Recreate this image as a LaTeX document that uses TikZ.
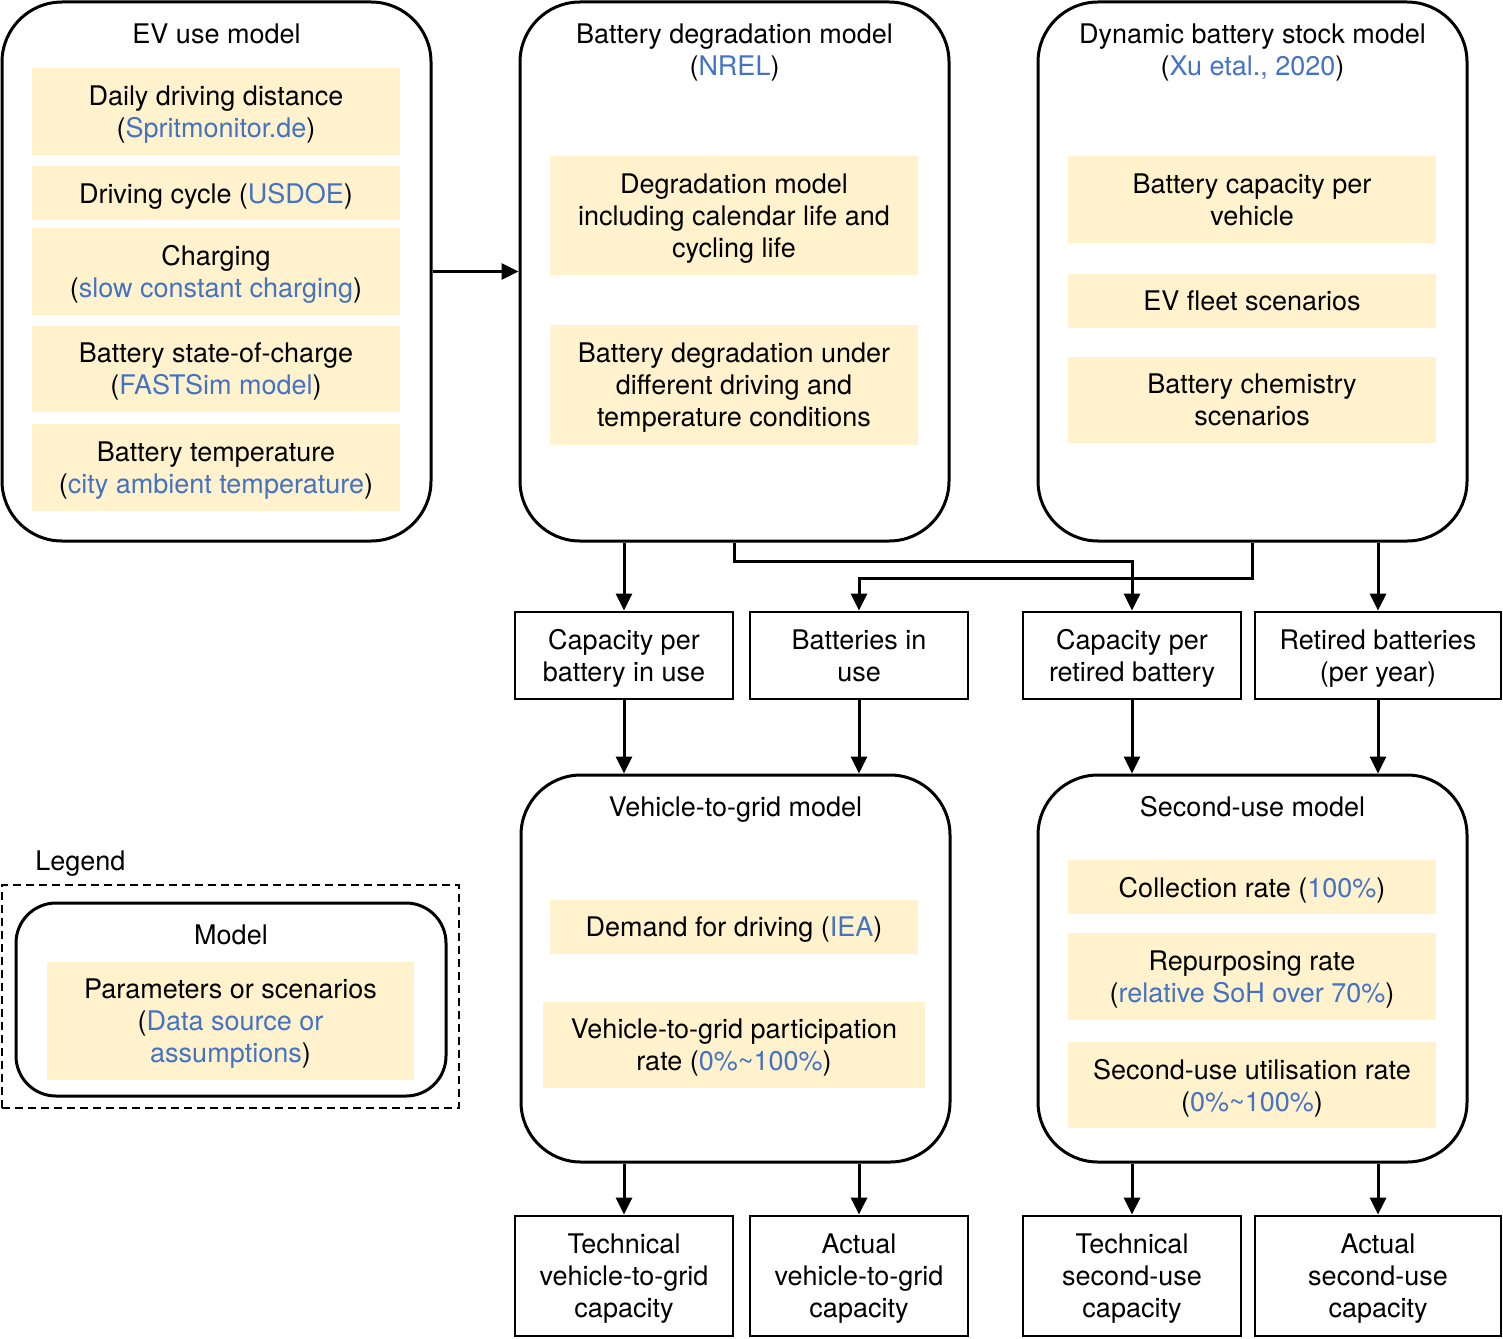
\documentclass[tikz,border=0pt]{standalone}
\usepackage{fontspec}
\setmainfont{TeX Gyre Heros}
\usetikzlibrary{arrows.meta}
\definecolor{srcblue}{HTML}{4472C4}
\definecolor{paramfill}{HTML}{FFF2CC}
\newcommand{\src}[1]{\textcolor{srcblue}{#1}}
\begin{document}
\begin{tikzpicture}[x=0.5pt,y=-0.5pt, font=\fontsize{13.5}{16}\selectfont,
  model/.style={draw, line width=1.5pt, rounded corners=30pt, inner sep=0pt},
  param/.style={fill=paramfill, align=center, inner sep=0pt, text depth=0pt},
  var/.style={draw, line width=1.4pt, align=center, minimum width=109pt, inner sep=0pt, text depth=0pt},
  arr/.style={line width=1.5pt, -{Triangle[length=8.5pt,width=8pt]}},
  title/.style={align=center, inner sep=0pt, text depth=0pt}]
\useasboundingbox (0,0) rectangle (1503,1338);

% ---- EV use model
\node[model, minimum width=214.5pt, minimum height=269.5pt] (ev) at (216.5,271.5) {};
\node[title] (evt) at (216.5,34) {EV use model};
\node[param, minimum width=184pt, minimum height=43.5pt] (ev1) at (216,111.5) {Daily driving distance\\(\src{Spritmonitor.de})};
\node[param, minimum width=184pt, minimum height=27pt] (ev2) at (216,193) {Driving cycle (\src{USDOE})};
\node[param, minimum width=184pt, minimum height=43.5pt] (ev3) at (216,271.5) {Charging\\(\src{slow constant charging})};
\node[param, minimum width=184pt, minimum height=43pt] (ev4) at (216,369) {Battery state-of-charge\\(\src{FASTSim model})};
\node[param, minimum width=184pt, minimum height=43.5pt] (ev5) at (216,467.5) {Battery temperature\\(\src{city ambient temperature})};

% ---- Battery degradation model
\node[model, minimum width=214.5pt, minimum height=269.5pt] (deg) at (734.5,271.5) {};
\node[title] (degt) at (734.5,50) {Battery degradation model\\(\src{NREL})};
\node[param, minimum width=184pt, minimum height=59.5pt] (deg1) at (734,215.5) {Degradation model\\including calendar life and\\cycling life};
\node[param, minimum width=184pt, minimum height=60pt] (deg2) at (734,385) {Battery degradation under\\different driving and\\temperature conditions};

% ---- Dynamic battery stock model
\node[model, minimum width=214.5pt, minimum height=269.5pt] (stock) at (1252.5,271.5) {};
\node[title] (stockt) at (1252.5,50) {Dynamic battery stock model\\(\src{Xu etal., 2020})};
\node[param, minimum width=184pt, minimum height=43.5pt] (st1) at (1252,199.5) {Battery capacity per\\vehicle};
\node[param, minimum width=184pt, minimum height=27pt] (st2) at (1252,301) {EV fleet scenarios};
\node[param, minimum width=184pt, minimum height=43pt] (st3) at (1252,400) {Battery chemistry\\scenarios};

% ---- intermediate variables
\node[var, minimum height=43.5pt] (capuse) at (624,655.5) {Capacity per\\battery in use};
\node[var, minimum height=43.5pt] (batuse) at (859,655.5) {Batteries in\\use};
\node[var, minimum height=43.5pt] (capret) at (1132,655.5) {Capacity per\\retired battery};
\node[var, minimum height=43.5pt, minimum width=123pt] (retired) at (1378,655.5) {Retired batteries\\(per year)};

% ---- Vehicle-to-grid model
\node[model, minimum width=214.5pt, minimum height=193.5pt] (v2g) at (735.5,968.5) {};
\node[title] (v2gt) at (735.5,807) {Vehicle-to-grid model};
\node[param, minimum width=184pt, minimum height=27pt] (v1) at (734,927) {Demand for driving (\src{IEA})};
\node[param, minimum width=191pt, minimum height=43pt] (v2) at (734,1045) {Vehicle-to-grid participation\\rate (\src{0\%\textasciitilde100\%})};

% ---- Second-use model
\node[model, minimum width=214.5pt, minimum height=193.5pt] (su) at (1252.5,968.5) {};
\node[title] (sut) at (1252.5,806) {Second-use model};
\node[param, minimum width=184pt, minimum height=27pt] (s1) at (1252,887) {Collection rate (\src{100\%})};
\node[param, minimum width=184pt, minimum height=43.5pt] (s2) at (1252,976.5) {Repurposing rate\\(\src{relative SoH over 70\%})};
\node[param, minimum width=184pt, minimum height=43pt] (s3) at (1252,1085) {Second-use utilisation rate\\(\src{0\%\textasciitilde100\%})};

% ---- outputs
\node[var, minimum height=60pt] (tv2g) at (624,1276) {Technical\\vehicle-to-grid\\capacity};
\node[var, minimum height=60pt] (av2g) at (859,1276) {Actual\\vehicle-to-grid\\capacity};
\node[var, minimum height=60pt] (tsu) at (1132,1276) {Technical\\second-use\\capacity};
\node[var, minimum height=60pt, minimum width=123pt] (asu) at (1378,1276) {Actual\\second-use\\capacity};

% ---- Legend
\node[anchor=west, inner sep=0pt, text depth=0pt] (legt) at (35,861) {Legend};
\node[draw, line width=1pt, dash pattern=on 4pt off 2.5pt, minimum width=228.5pt, minimum height=111.5pt, inner sep=0pt] (leg) at (230.5,996.5) {};
\node[model, rounded corners=20pt, minimum width=215pt, minimum height=96.5pt] (legm) at (231,999.5) {};
\node[title] (legmt) at (231,935) {Model};
\node[param, minimum width=183.5pt, minimum height=59pt] (legp) at (230.5,1021) {Parameters or scenarios\\(\src{Data source or}\\\src{assumptions})};

% ---- connectors
\draw[arr] (ev.east) -- (deg.west);
\draw[arr] (capuse.north |- deg.south) -- (capuse.north);
\draw[arr] (deg.south) -- ++(0,19) -| (capret.north);
\draw[arr] (stock.south) -- ++(0,36) -| (batuse.north);
\draw[arr] (retired.north |- stock.south) -- (retired.north);

\draw[arr] (capuse.south) -- (capuse.south |- v2g.north);
\draw[arr] (batuse.south) -- (batuse.south |- v2g.north);
\draw[arr] (capret.south) -- (capret.south |- su.north);
\draw[arr] (retired.south) -- (retired.south |- su.north);

\draw[arr] (tv2g.north |- v2g.south) -- (tv2g.north);
\draw[arr] (av2g.north |- v2g.south) -- (av2g.north);
\draw[arr] (tsu.north |- su.south) -- (tsu.north);
\draw[arr] (asu.north |- su.south) -- (asu.north);
\end{tikzpicture}
\end{document}
